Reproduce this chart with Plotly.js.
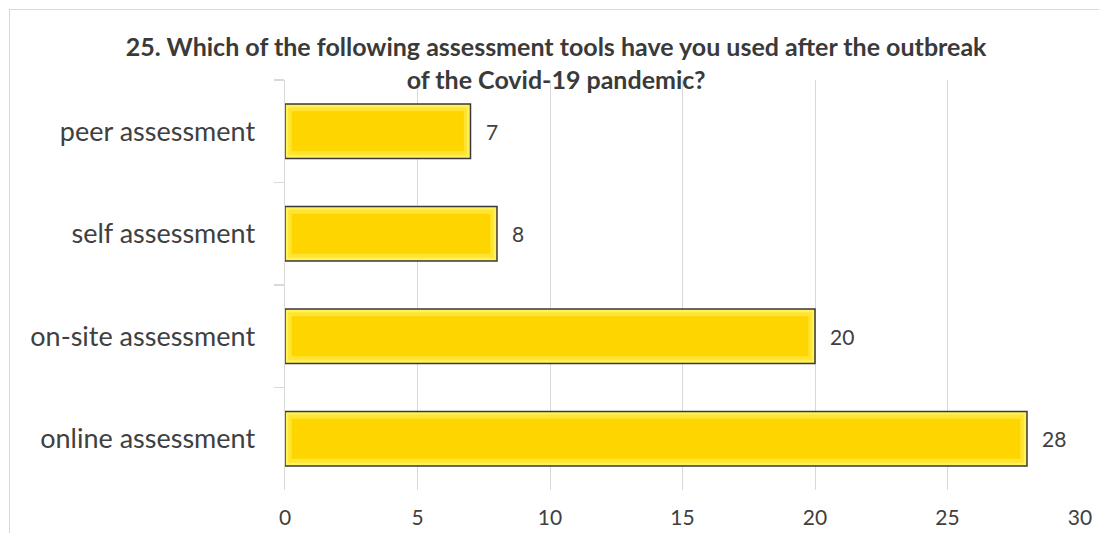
<!DOCTYPE html>
<html>
<head>
<meta charset="utf-8">
<script src="https://cdn.plot.ly/plotly-3.0.1.min.js"></script>
<style>
  html, body { margin: 0; padding: 0; background: #ffffff; }
  #wrap { position: relative; width: 1099px; height: 533px; }
  #chart { position: absolute; left: 0; top: 0; width: 1099px; height: 533px; }
  #frame {
    position: absolute; left: 9px; top: 9px; width: 1100px; height: 540px;
    border-left: 1.5px solid #dcd8d4; border-top: 1.5px solid #dcd8d4;
    pointer-events: none;
  }
</style>
</head>
<body>
<div id="wrap">
  <div id="chart"></div>
  <div id="frame"></div>
</div>
<script>
// Survey answers: assessment tools used after the Covid-19 outbreak
const categories = ['peer assessment', 'self assessment', 'on-site assessment', 'online assessment'];
const counts = [7, 8, 20, 28];
const xTicks = [0, 5, 10, 15, 20, 25, 30];
const chartTitle = '25. Which of the following assessment tools have you used after the outbreak<br>of the Covid-19 pandemic?';

const textColor = '#404040';
const gridColor = '#d9d9d9';

// Outer bar with dark outline (light yellow rim of the bevel)
const outer = {
  type: 'bar',
  orientation: 'h',
  y: categories,
  x: counts,
  width: 0.53,
  marker: { color: '#FFF157', line: { color: '#3a3a3a', width: 1.5 } },
  hoverinfo: 'x+y'
};

// Middle step of the bevel
const middle = {
  type: 'bar',
  orientation: 'h',
  y: categories,
  x: counts.map(v => v - 0.24),
  base: 0.12,
  width: 0.47,
  marker: { color: '#FFE433', line: { width: 0 } },
  hoverinfo: 'skip'
};

// Inner face of the bevel (deeper gold)
const inner = {
  type: 'bar',
  orientation: 'h',
  y: categories,
  x: counts.map(v => v - 0.5),
  base: 0.25,
  width: 0.39,
  marker: { color: '#FFD500', line: { width: 0 } },
  hoverinfo: 'skip'
};

// Value labels to the right of each bar
const valueLabels = categories.map((c, i) => ({
  x: counts[i], y: c, xref: 'x', yref: 'y',
  text: String(counts[i]), showarrow: false,
  xanchor: 'left', xshift: 13,
  font: { family: 'Lato, sans-serif', size: 21, color: textColor }
}));

const layout = {
  width: 1099,
  height: 533,
  margin: { l: 285, r: 19, t: 80, b: 43 },
  paper_bgcolor: '#ffffff',
  plot_bgcolor: '#ffffff',
  barmode: 'overlay',
  showlegend: false,
  font: { family: 'Lato, sans-serif', color: textColor },
  title: {
    text: chartTitle,
    font: { family: 'Lato, sans-serif', size: 25, weight: 'bold', color: '#3a3a3a' },
    xref: 'container', x: 0.506, xanchor: 'center',
    yref: 'container', y: 1 - 56 / 533, yanchor: 'top'
  },
  xaxis: {
    range: [0, 30],
    tickvals: xTicks,
    ticktext: xTicks.map(String),
    showgrid: true,
    gridcolor: gridColor,
    gridwidth: 1,
    zeroline: false,
    showline: false,
    ticks: '',
    ticklabelstandoff: 13,
    tickfont: { family: 'Lato, sans-serif', size: 21, color: textColor },
    fixedrange: true
  },
  yaxis: {
    autorange: 'reversed',
    showgrid: false,
    zeroline: false,
    showline: true,
    linecolor: gridColor,
    linewidth: 1.5,
    ticks: 'outside',
    tickson: 'boundaries',
    ticklen: 10,
    tickwidth: 1.5,
    tickcolor: gridColor,
    ticklabelstandoff: 23,
    tickfont: { family: 'Lato, sans-serif', size: 27, color: textColor },
    fixedrange: true
  },
  annotations: valueLabels
};

Plotly.newPlot('chart', [outer, middle, inner], layout, { displayModeBar: false, staticPlot: true });
</script>
</body>
</html>
